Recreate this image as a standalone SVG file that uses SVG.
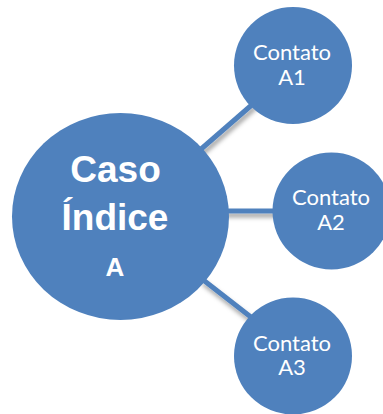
<svg xmlns="http://www.w3.org/2000/svg" width="383" height="414" viewBox="0 0 383 414">
  <defs>
    <filter id="lineShadow" x="-30%" y="-30%" width="160%" height="180%">
      <feDropShadow dx="1.5" dy="4" stdDeviation="2" flood-color="#000" flood-opacity="0.35"/>
    </filter>
    <style>
      .node { fill: #4F81BD; }
      .link { stroke: #4F81BD; stroke-width: 5; fill: none; }
      .main { font-family: "Liberation Sans", Arial, sans-serif; font-weight: bold; fill: #fff; text-anchor: middle; }
      .sub { font-family: Lato, "Liberation Sans", sans-serif; font-size: 22px; fill: #fff; text-anchor: middle; }
    </style>
  </defs>
  <rect width="383" height="414" fill="#fff"/>

  <!-- spokes from the central case to each contact -->
  <g id="connectors" filter="url(#lineShadow)">
    <line class="link" x1="200" y1="150" x2="254" y2="103"/>
    <line class="link" x1="224" y1="211" x2="278" y2="211"/>
    <line class="link" x1="202" y1="279" x2="256" y2="321"/>
  </g>

  <g id="caso-indice-a">
    <ellipse class="node" cx="120.5" cy="216.5" rx="108.5" ry="103.5"/>
    <text class="main" x="115.5" y="182" font-size="37">Caso</text>
    <text class="main" x="115" y="230" font-size="37">Índice</text>
    <text class="main" x="115" y="276" font-size="26">A</text>
  </g>

  <g id="contato-a1">
    <ellipse class="node" cx="293" cy="65.5" rx="59" ry="58.5"/>
    <text class="sub" x="292" y="60">Contato</text>
    <text class="sub" x="292" y="84.5">A1</text>
  </g>

  <g id="contato-a2">
    <ellipse class="node" cx="331.5" cy="211" rx="59" ry="58.5"/>
    <text class="sub" x="331" y="205">Contato</text>
    <text class="sub" x="331" y="229.5">A2</text>
  </g>

  <g id="contato-a3">
    <ellipse class="node" cx="293" cy="356" rx="59" ry="58.5"/>
    <text class="sub" x="292" y="350.5">Contato</text>
    <text class="sub" x="292" y="375">A3</text>
  </g>
</svg>
